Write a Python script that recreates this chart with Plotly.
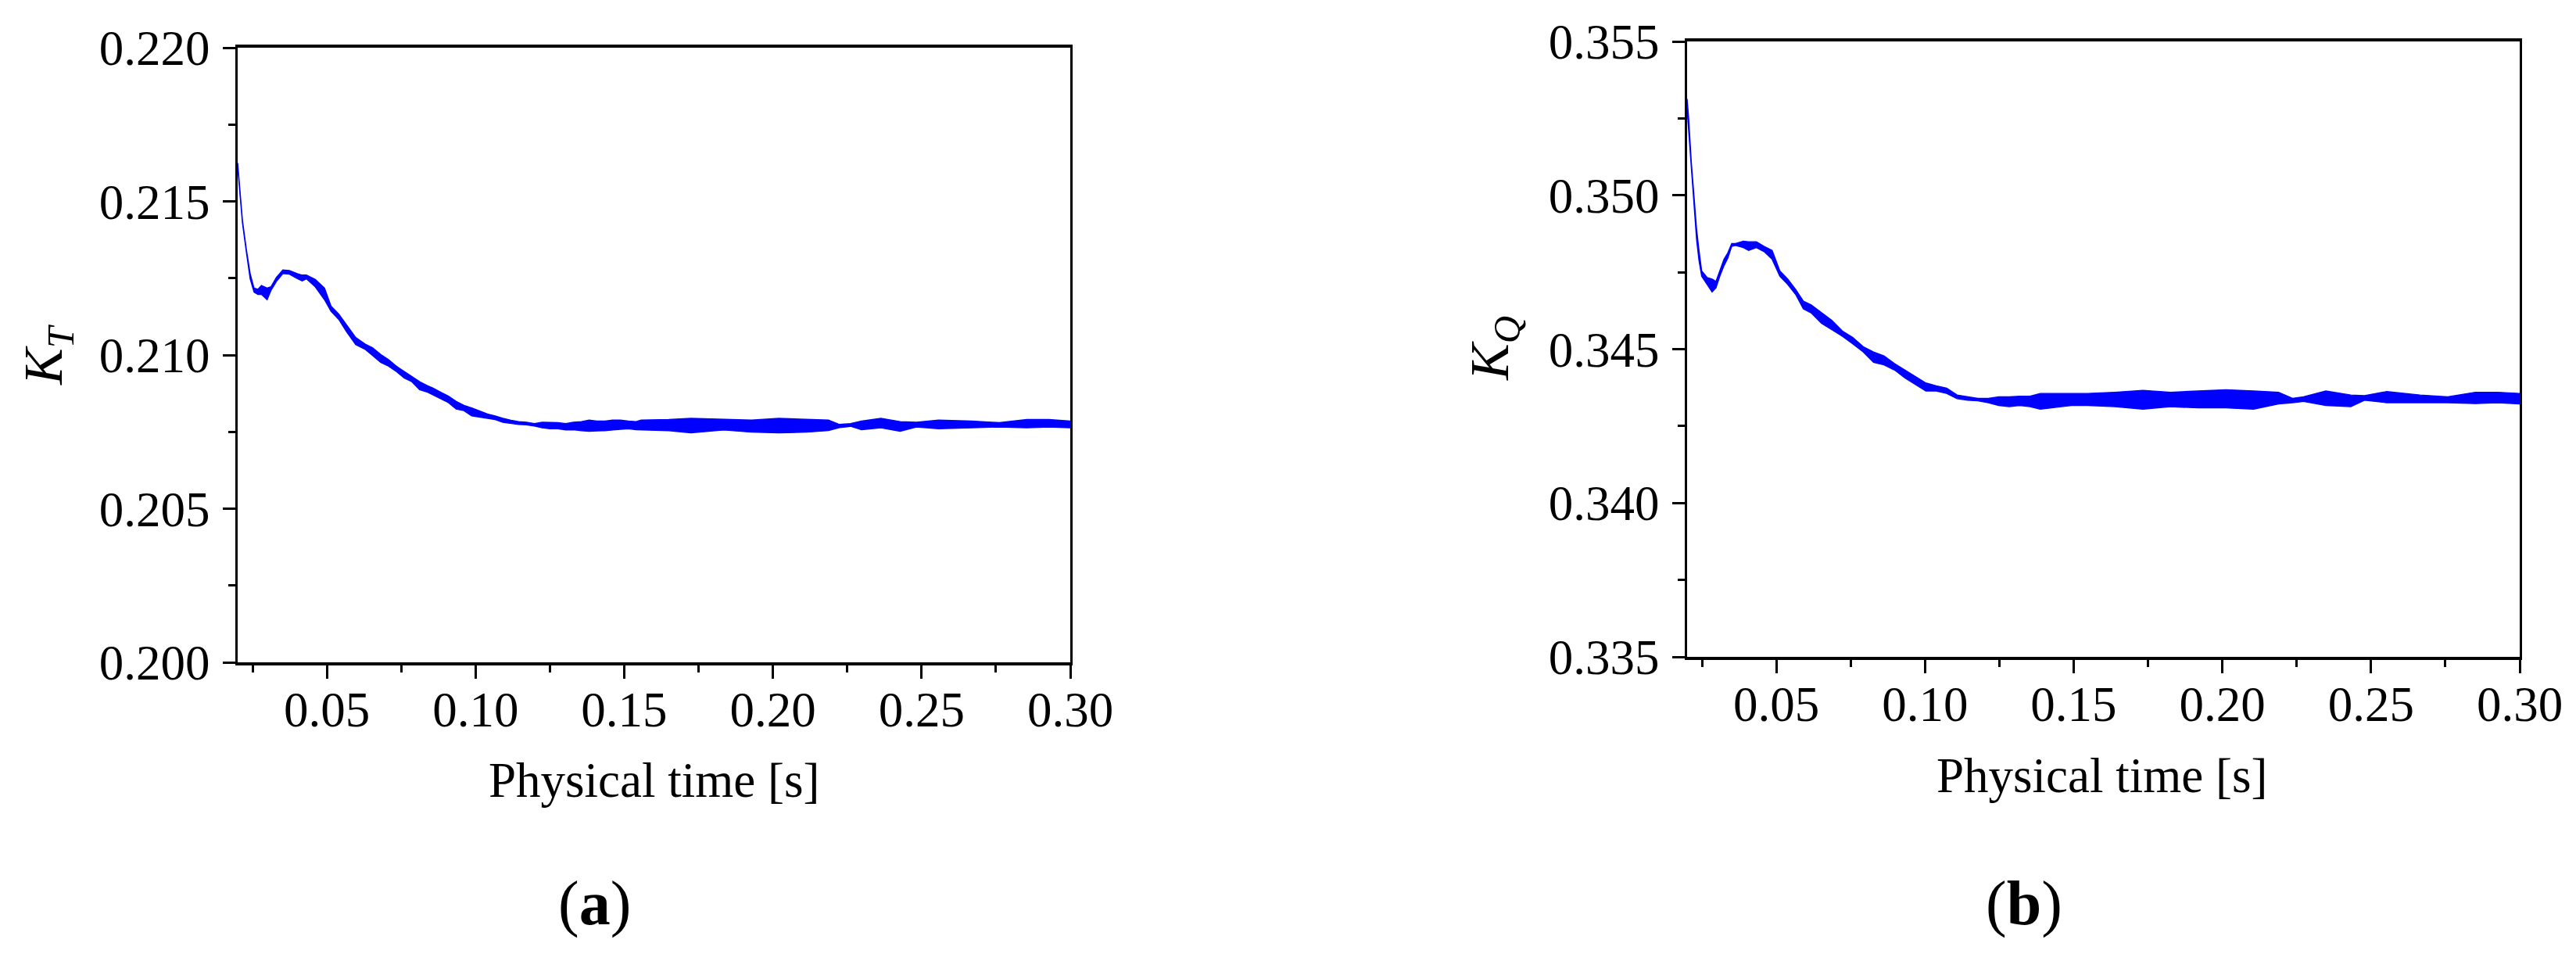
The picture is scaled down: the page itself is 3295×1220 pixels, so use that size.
import plotly.graph_objects as go

# ---------------- data ----------------
# (a) thrust coefficient K_T : time, upper edge and lower edge of the plotted trace
kt_time = [0.0200, 0.0216, 0.0229, 0.0242, 0.0255, 0.0268, 0.0280, 0.0299, 0.0312, 0.0330,
           0.0352, 0.0374, 0.0400, 0.0417, 0.0431, 0.0461, 0.0492, 0.0514, 0.0540, 0.0566,
           0.0597, 0.0628, 0.0654, 0.0681, 0.0707, 0.0733, 0.0760, 0.0786, 0.0812, 0.0839,
           0.0856, 0.0883, 0.0909, 0.0935, 0.0961, 0.0987, 0.1014, 0.1040, 0.1066, 0.1092,
           0.1119, 0.1145, 0.1171, 0.1198, 0.1224, 0.1250, 0.1277, 0.1303, 0.1329, 0.1356,
           0.1382, 0.1408, 0.1435, 0.1461, 0.1487, 0.1514, 0.1540, 0.1557, 0.1650, 0.1724,
           0.1835, 0.1928, 0.2020, 0.2113, 0.2187, 0.2224, 0.2261, 0.2298, 0.2363, 0.2428,
           0.2483, 0.2557, 0.2668, 0.2761, 0.2854, 0.2928, 0.3000]
kt_upper = [0.21625, 0.21439, 0.21345, 0.21265, 0.21218, 0.21214, 0.21226, 0.21218, 0.21222, 0.21252,
            0.21277, 0.21275, 0.21265, 0.21260, 0.21260, 0.21246, 0.21218, 0.21159, 0.21133, 0.21099,
            0.21057, 0.21036, 0.21023, 0.21002, 0.20985, 0.20964, 0.20947, 0.20930, 0.20913, 0.20900,
            0.20893, 0.20879, 0.20866, 0.20849, 0.20836, 0.20828, 0.20817, 0.20808, 0.20802, 0.20794,
            0.20788, 0.20783, 0.20781, 0.20777, 0.20781, 0.20780, 0.20780, 0.20777, 0.20781, 0.20783,
            0.20788, 0.20785, 0.20785, 0.20788, 0.20788, 0.20785, 0.20783, 0.20788, 0.20790, 0.20794,
            0.20790, 0.20788, 0.20794, 0.20790, 0.20788, 0.20774, 0.20777, 0.20785, 0.20794, 0.20783,
            0.20781, 0.20788, 0.20785, 0.20780, 0.20790, 0.20790, 0.20785]
kt_lower = [0.21612, 0.21430, 0.21337, 0.21248, 0.21205, 0.21197, 0.21197, 0.21180, 0.21210, 0.21239,
            0.21265, 0.21263, 0.21249, 0.21241, 0.21248, 0.21222, 0.21180, 0.21142, 0.21116, 0.21076,
            0.21034, 0.21019, 0.20998, 0.20976, 0.20964, 0.20947, 0.20925, 0.20913, 0.20887, 0.20879,
            0.20870, 0.20858, 0.20845, 0.20824, 0.20819, 0.20802, 0.20798, 0.20794, 0.20790, 0.20781,
            0.20777, 0.20774, 0.20773, 0.20769, 0.20763, 0.20760, 0.20760, 0.20756, 0.20757, 0.20754,
            0.20752, 0.20752, 0.20754, 0.20756, 0.20757, 0.20760, 0.20757, 0.20757, 0.20754, 0.20747,
            0.20756, 0.20749, 0.20747, 0.20749, 0.20754, 0.20764, 0.20768, 0.20757, 0.20763, 0.20752,
            0.20766, 0.20760, 0.20763, 0.20766, 0.20763, 0.20766, 0.20763]

# (b) torque coefficient K_Q : time, upper edge and lower edge of the plotted trace
kq_time = [0.0200, 0.0205, 0.0214, 0.0223, 0.0232, 0.0240, 0.0249, 0.0267, 0.0284, 0.0297,
           0.0310, 0.0324, 0.0337, 0.0350, 0.0363, 0.0389, 0.0407, 0.0433, 0.0459, 0.0486,
           0.0512, 0.0538, 0.0565, 0.0591, 0.0617, 0.0652, 0.0687, 0.0722, 0.0757, 0.0792,
           0.0827, 0.0862, 0.0898, 0.0933, 0.0968, 0.1003, 0.1038, 0.1073, 0.1108, 0.1143,
           0.1178, 0.1213, 0.1248, 0.1283, 0.1318, 0.1353, 0.1388, 0.1423, 0.1458, 0.1493,
           0.1528, 0.1546, 0.1639, 0.1733, 0.1826, 0.1919, 0.2012, 0.2105, 0.2189, 0.2236,
           0.2273, 0.2348, 0.2432, 0.2478, 0.2553, 0.2665, 0.2758, 0.2851, 0.2926, 0.3000]
kq_upper = [0.35313, 0.35254, 0.35110, 0.34999, 0.34889, 0.34821, 0.34754, 0.34733, 0.34728, 0.34720,
            0.34754, 0.34792, 0.34813, 0.34843, 0.34843, 0.34851, 0.34849, 0.34849, 0.34834, 0.34821,
            0.34754, 0.34728, 0.34694, 0.34656, 0.34644, 0.34618, 0.34593, 0.34559, 0.34538, 0.34508,
            0.34491, 0.34478, 0.34453, 0.34432, 0.34411, 0.34390, 0.34381, 0.34373, 0.34351, 0.34345,
            0.34340, 0.34340, 0.34345, 0.34345, 0.34347, 0.34347, 0.34356, 0.34356, 0.34356, 0.34356,
            0.34356, 0.34356, 0.34360, 0.34366, 0.34360, 0.34364, 0.34368, 0.34364, 0.34360, 0.34340,
            0.34345, 0.34364, 0.34351, 0.34349, 0.34362, 0.34351, 0.34345, 0.34360, 0.34360, 0.34356]
kq_lower = [0.35279, 0.35220, 0.35093, 0.34974, 0.34855, 0.34788, 0.34737, 0.34711, 0.34686, 0.34699,
            0.34737, 0.34771, 0.34796, 0.34834, 0.34837, 0.34830, 0.34821, 0.34830, 0.34817, 0.34792,
            0.34737, 0.34711, 0.34678, 0.34631, 0.34618, 0.34584, 0.34563, 0.34542, 0.34517, 0.34491,
            0.34457, 0.34449, 0.34432, 0.34406, 0.34385, 0.34364, 0.34364, 0.34356, 0.34339, 0.34334,
            0.34332, 0.34326, 0.34317, 0.34313, 0.34317, 0.34313, 0.34305, 0.34309, 0.34313, 0.34317,
            0.34317, 0.34317, 0.34313, 0.34305, 0.34313, 0.34309, 0.34309, 0.34305, 0.34322, 0.34326,
            0.34330, 0.34317, 0.34313, 0.34334, 0.34326, 0.34326, 0.34326, 0.34323, 0.34326, 0.34322]

x_ticks = [0.05, 0.10, 0.15, 0.20, 0.25, 0.30]
kt_ticks = [0.200, 0.205, 0.210, 0.215, 0.220]
kq_ticks = [0.335, 0.340, 0.345, 0.350, 0.355]
x_title = "Physical time [s]"

# ---------------- figure ----------------
W, H = 3295, 1220
OFF = 8          # page body margin added by the browser
FONT = "Liberation Serif"
BLUE = "#0000FF"

def px(v):
    return (v - OFF) / W

def py(v):
    return 1 - (v - OFF) / H

fig = go.Figure()

def band(t, up, lo, xa, ya):
    fig.add_trace(go.Scatter(
        x=list(t) + list(reversed(t)),
        y=list(up) + list(reversed(lo)),
        mode="lines", fill="toself", fillcolor=BLUE,
        line=dict(color=BLUE, width=1.4),
        xaxis=xa, yaxis=ya, showlegend=False, hoverinfo="skip"))

band(kt_time, kt_upper, kt_lower, "x", "y")
band(kq_time, kq_upper, kq_lower, "x2", "y2")

def xax(domain, anchor):
    return dict(domain=domain, anchor=anchor, range=[0.02, 0.30],
                tickvals=x_ticks, tickformat=".2f", automargin=False,
                ticks="outside", ticklen=17, tickwidth=3, tickcolor="black",
                minor=dict(dtick=0.025, tick0=0, ticks="outside", ticklen=9,
                           tickwidth=3, tickcolor="black"),
                showline=True, linewidth=4, linecolor="black", mirror=True,
                showgrid=False, zeroline=False,
                tickfont=dict(family=FONT, size=63, color="black"),
                ticklabelstandoff=-15)

def yax(domain, anchor, rng, tv):
    return dict(domain=domain, anchor=anchor, range=rng,
                tickvals=tv, tickformat=".3f", automargin=False,
                ticks="outside", ticklen=16, tickwidth=3, tickcolor="black",
                minor=dict(dtick=0.0025, tick0=0, ticks="outside", ticklen=9,
                           tickwidth=3, tickcolor="black"),
                showline=True, linewidth=3, linecolor="black", mirror=True,
                showgrid=False, zeroline=False,
                tickfont=dict(family=FONT, size=63, color="black"),
                ticklabelstandoff=4)

fig.update_layout(
    width=W, height=H, autosize=False,
    margin=dict(l=0, r=0, t=0, b=0, pad=0, autoexpand=False),
    paper_bgcolor="white", plot_bgcolor="white",
    xaxis=xax([px(304), px(1369)], "y"),
    yaxis=yax([py(847), py(61)], "x", [0.200, 0.220], kt_ticks),
    xaxis2=xax([px(2158), px(3223)], "y2"),
    yaxis2=yax([py(840), py(53)], "x2", [0.335, 0.355], kq_ticks),
)

ann = [
    dict(text="<i>K</i><sub><i>T</i></sub>", x=px(61), y=py(454), textangle=-90,
         font=dict(family=FONT, size=70, color="black")),
    dict(text="<i>K</i><sub><i>Q</i></sub>", x=px(1911), y=py(446), textangle=-90,
         font=dict(family=FONT, size=70, color="black")),
    dict(text=x_title, x=px(836), y=py(998),
         font=dict(family=FONT, size=63, color="black")),
    dict(text=x_title, x=px(2688), y=py(992),
         font=dict(family=FONT, size=63, color="black")),
    dict(text="(<b>a</b>)", x=px(760), y=py(1155),
         font=dict(family=FONT, size=80, color="black")),
    dict(text="(<b>b</b>)", x=px(2589), y=py(1155),
         font=dict(family=FONT, size=80, color="black")),
]
for a in ann:
    a.update(xref="paper", yref="paper", showarrow=False, xanchor="center", yanchor="middle")
fig.update_layout(annotations=ann)

fig.write_html("out.html")
